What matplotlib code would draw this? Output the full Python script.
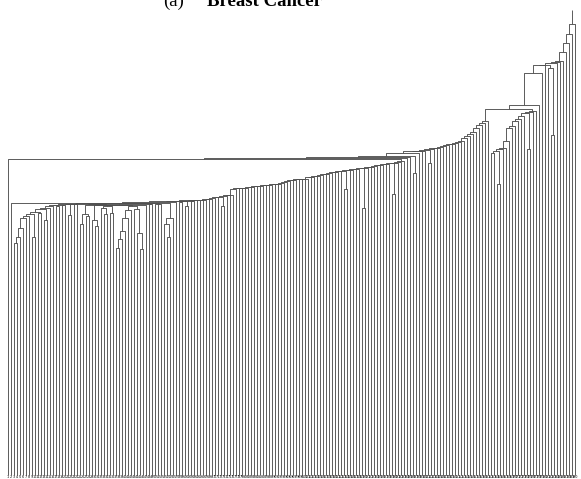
import matplotlib.pyplot as plt
import numpy as np

# merge height between neighbouring leaves, left to right (dendrogram order)
gaps_left = [314, 270, 230, 236, 245, 255, 257, 259, 236, 261,
             260, 264, 253, 265, 267, 268, 267.4, 268.5, 268, 269,
             258, 268.8, 269.2, 269.4, 249, 259, 257, 268.5, 253, 247,
             268, 265, 259, 267.5, 260, 268, 225, 234, 242, 255,
             263, 267, 264, 240, 224, 268.5, 269.5, 269, 269.7, 269.3,
             269.6, 270.5]
gaps_mid = [249, 236, 255, 271.5, 272, 271, 271.8, 267,
            272.4, 272.1, 272.9, 273.0, 273.4, 273.5, 274.0, 274.6, 275.2, 276.1, 276.4,
            267, 277.5, 278.1, 278.4, 284, 284.6, 284.9, 285.2,
            285.5, 286, 286.2, 286.8, 287, 287.5, 287.6, 287.9, 288.3, 288.8,
            289.1, 289.4, 289.8, 291.5, 292.5, 293, 293.4, 293.6, 293.8, 294,
            294.3, 295.5, 296.4, 297, 297.3, 298, 298.6, 299.4, 300, 300.5,
            301.2, 301.8, 302,
            284, 302.6, 303.2, 303.5, 304.4, 304.8, 265, 305.3, 306.1, 306.4,
            307.2, 307.9, 308.3, 309.1, 309.4, 310, 279, 310.3, 311, 311.6]
gaps_right = [315, 316, 317, 300, 320, 321.5, 322, 323, 310, 324,
              324.6, 325.2, 325.4, 326.3, 328, 328.4, 329.2, 329.5, 331, 332,
              335, 337, 339, 341, 345, 348, 350, 352, 364, 320,
              322, 289, 324, 325, 332, 345, 347, 352, 354, 357,
              360, 324, 361, 362, 368, 399, 407, 407.5, 404, 338,
              409, 410, 411, 420, 429, 438, 448]
root_top = 462

gaps = np.array(gaps_left + gaps_mid + gaps_right, dtype=float)
n_leaves = len(gaps) + 1
labels = [str(i + 1) for i in range(n_leaves)]

fig = plt.figure(figsize=(5.81, 4.79), dpi=100)
ax = fig.add_axes([0, 0, 1, 1])

links = []


def build(lo, hi):
    # split the leaf range at its highest gap, like a cartesian tree
    if lo == hi:
        return float(lo), 0.0
    k = lo + int(np.argmax(gaps[lo:hi]))
    xa, ha = build(lo, k)
    xb, hb = build(k + 1, hi)
    h = gaps[k]
    links.append(([xa, xa, xb, xb], [ha, h, h, hb]))
    return (xa + xb) / 2, h


x_root, h_root = build(0, n_leaves - 1)

line_kw = dict(color='#505050', lw=0.65, solid_capstyle='butt')
for xs, ys in links:
    ax.plot(xs, ys, **line_kw)
ax.plot([x_root, x_root], [h_root, root_top], **line_kw)

# leaf labels, tiny and packed together along the bottom
for i, lab in enumerate(labels):
    ax.text(i, -2.0, lab, fontsize=2.4, color='black', ha='center', va='center',
            clip_on=False)

ax.set_xlim(-8 / 3, 573 / 3)
ax.set_ylim(-3.97, 471.8)
ax.axis('off')

fig.text(163 / 581, 1 - 5.5 / 479, '(a)', fontsize=13.5, family='Liberation Serif',
         va='baseline', ha='left')
fig.text(207 / 581, 1 - 5.5 / 479, 'Breast Cancer', fontsize=13.5, fontweight='bold',
         family='Liberation Serif', va='baseline', ha='left')

fig.savefig('out.png', dpi=100)
